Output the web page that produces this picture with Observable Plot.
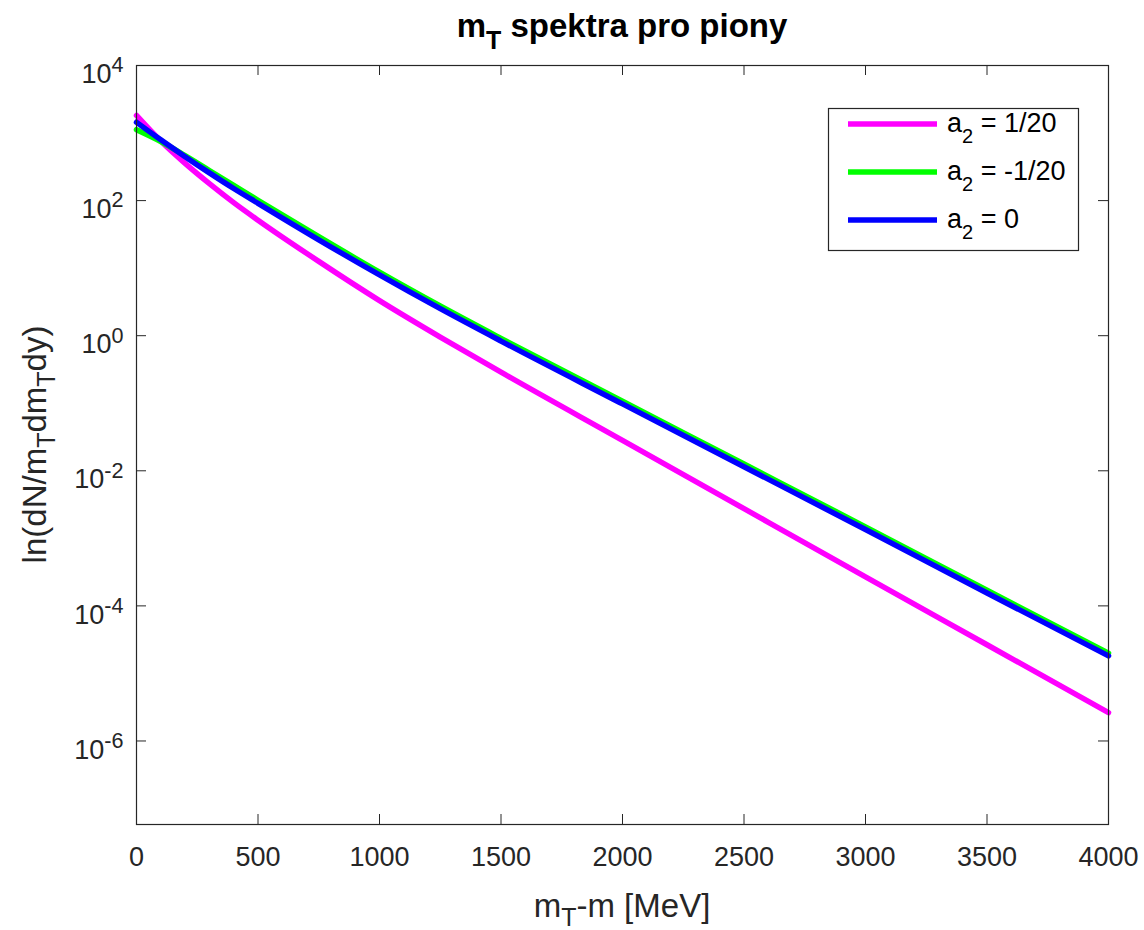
<!DOCTYPE html>
<html>
<head>
<meta charset="utf-8">
<script src="https://cdn.jsdelivr.net/npm/d3@7"></script>
<script src="https://cdn.jsdelivr.net/npm/@observablehq/plot@0.6"></script>
<style>
  html, body { margin: 0; padding: 0; background: #fff; }
</style>
</head>
<body>
<div id="chart"></div>
<script>
// ---- data ----
const mt = [0, 100, 200, 300, 400, 500, 750, 1000, 1250, 1500, 2000, 2500, 3000, 3500, 4000];
const seriesNames = ["a2 = 1/20", "a2 = -1/20", "a2 = 0"];
const legendMain = ["a", "a", "a"];
const legendSub = ["2", "2", "2"];
const legendRest = [" = 1/20", " = -1/20", " = 0"];
const colors = ["#ff00ff", "#00ff00", "#0000ff"];
const magenta = [1820, 759, 355, 178, 93.3, 51.3, 12.6, 3.31, 0.955, 0.288, 0.0282, 2.75e-3, 2.69e-4, 2.66e-5, 2.63e-6];
const green   = [1122, 750, 462, 279, 168, 101, 29.2, 8.71, 2.75, 0.912, 0.107, 0.0126, 1.48e-3, 1.70e-4, 2.00e-5];
const blue    = [1445, 794, 447, 257, 151, 91.2, 26.3, 7.94, 2.51, 0.832, 0.0977, 0.01148, 1.35e-3, 1.55e-4, 1.82e-5];
const xTicks = [0, 500, 1000, 1500, 2000, 2500, 3000, 3500, 4000];
const yTicks = [1e-6, 1e-4, 1e-2, 1, 1e2, 1e4];
const xDomain = [0, 4000];
const yDomain = [5.8e-8, 1e4];

const allSeries = [magenta, green, blue];
const rows = [];
allSeries.forEach((vals, si) => {
  vals.forEach((v, i) => rows.push({series: seriesNames[si], x: mt[i], y: v}));
});

const W = 1144, H = 930;
const mTop = 65, mLeft = 136, mRight = 36, mBottom = 106;
const frameW = W - mLeft - mRight, frameH = H - mTop - mBottom;
const axisColor = "#262626";
const font = "'Liberation Sans', Arial, Helvetica, sans-serif";

const plot = Plot.plot({
  width: W,
  height: H,
  marginTop: mTop,
  marginLeft: mLeft,
  marginRight: mRight,
  marginBottom: mBottom,
  style: {fontFamily: font, fontSize: "27px", background: "#fff", color: axisColor, overflow: "visible"},
  x: {domain: xDomain},
  y: {type: "log", domain: yDomain},
  color: {domain: seriesNames, range: colors},
  marks: [
    ...seriesNames.map((name) =>
      Plot.line(rows.filter(d => d.series === name), {
        x: "x", y: "y", stroke: "series", strokeWidth: 5.5, curve: "monotone-x"
      })
    ),
    Plot.axisX(xTicks, {tickSize: 0, tickPadding: 22, label: null, tickFormat: d => String(d), fontSize: 27}),
    Plot.axisY(yTicks, {tickSize: 0, tickPadding: 13, label: null, tickFormat: d => String(Math.round(Math.log10(d))), dy: 9, fontSize: 27}),
    Plot.ruleX(xTicks, {x: d => d, insetTop: frameH - 10, stroke: axisColor}),
    Plot.ruleX(xTicks, {x: d => d, insetBottom: frameH - 10, stroke: axisColor}),
    Plot.ruleY(yTicks, {y: d => d, insetRight: frameW - 10, stroke: axisColor}),
    Plot.ruleY(yTicks, {y: d => d, insetLeft: frameW - 10, stroke: axisColor}),
    Plot.frame({stroke: axisColor, strokeWidth: 1.2})
  ]
});

document.getElementById("chart").appendChild(plot);
const svg = d3.select(plot);

// y tick labels as powers of ten with superscripts
svg.selectAll('[aria-label="y-axis tick label"] text').each(function () {
  const t = d3.select(this);
  const e = t.text();
  t.text("");
  t.append("tspan").text("10");
  t.append("tspan").attr("dy", "-0.5em").attr("font-size", "0.8em").text(e);
});

// title
const title = svg.append("text")
  .attr("x", mLeft + frameW / 2).attr("y", 37)
  .attr("text-anchor", "middle").attr("font-weight", "bold")
  .attr("font-size", 33).attr("fill", "#000").attr("font-family", font);
title.append("tspan").text("m");
title.append("tspan").attr("dy", 12).attr("font-size", 25).text("T");
title.append("tspan").attr("dy", -12).text(" spektra pro piony");

// x label
const xl = svg.append("text")
  .attr("x", mLeft + frameW / 2).attr("y", 917)
  .attr("text-anchor", "middle").attr("font-size", 33)
  .attr("fill", axisColor).attr("font-family", font);
xl.append("tspan").text("m");
xl.append("tspan").attr("dy", 9).attr("font-size", 25).text("T");
xl.append("tspan").attr("dy", -9).text("-m [MeV]");

// y label
const yl = svg.append("text")
  .attr("transform", `translate(46,${mTop + frameH / 2}) rotate(-90)`)
  .attr("text-anchor", "middle").attr("font-size", 33)
  .attr("fill", axisColor).attr("font-family", font);
yl.append("tspan").text("ln(dN/m");
yl.append("tspan").attr("dy", 9).attr("font-size", 25).text("T");
yl.append("tspan").attr("dy", -9).text("dm");
yl.append("tspan").attr("dy", 9).attr("font-size", 25).text("T");
yl.append("tspan").attr("dy", -9).text("dy)");

// legend
const lg = svg.append("g").attr("font-family", font).attr("text-anchor", "start");
lg.append("rect").attr("x", 828.5).attr("y", 108.5).attr("width", 250).attr("height", 142)
  .attr("fill", "#fff").attr("stroke", axisColor).attr("stroke-width", 1.2);
seriesNames.forEach((name, i) => {
  const yy = 124 + i * 48;
  lg.append("line").attr("x1", 848).attr("x2", 937).attr("y1", yy).attr("y2", yy)
    .attr("stroke", colors[i]).attr("stroke-width", 5.5);
  const t = lg.append("text").attr("x", 947).attr("y", yy + 8).attr("font-size", 27)
    .attr("fill", "#000").attr("text-anchor", "start");
  t.append("tspan").text(legendMain[i]);
  t.append("tspan").attr("dy", 11).attr("font-size", 20).text(legendSub[i]);
  t.append("tspan").attr("dy", -11).text(legendRest[i]);
});
</script>
</body>
</html>
